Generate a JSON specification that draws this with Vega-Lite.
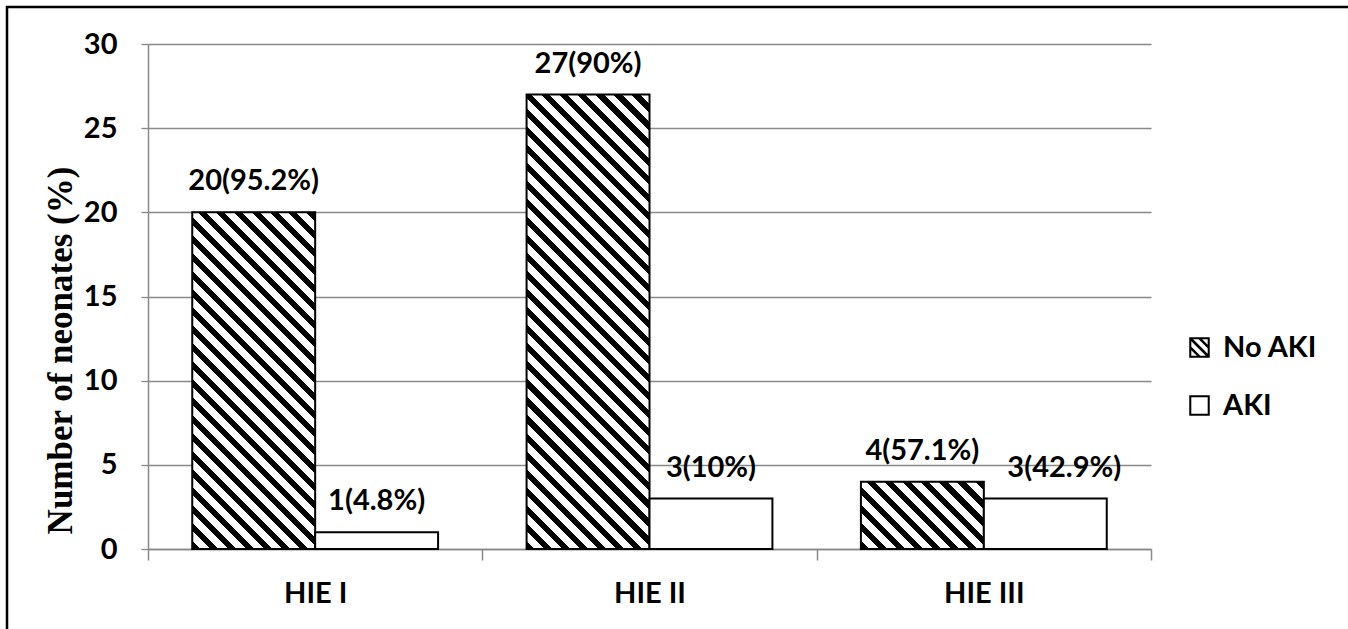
{
  "$schema": "https://vega.github.io/schema/vega-lite/v6.json",
  "width": 1345,
  "height": 626,
  "autosize": {"type": "none"},
  "padding": {"left": 7, "top": 7, "right": -4, "bottom": -4},
  "background": "white",
  "config": {
    "font": "Lato",
    "view": {"stroke": "black", "strokeWidth": 2.5}
  },
  "data": {
    "values": [
      {"group": "HIE I", "status": "No AKI", "count": 20, "pct": "95.2"},
      {"group": "HIE I", "status": "AKI", "count": 1, "pct": "4.8"},
      {"group": "HIE II", "status": "No AKI", "count": 27, "pct": "90"},
      {"group": "HIE II", "status": "AKI", "count": 3, "pct": "10"},
      {"group": "HIE III", "status": "No AKI", "count": 4, "pct": "57.1"},
      {"group": "HIE III", "status": "AKI", "count": 3, "pct": "42.9"}
    ]
  },
  "transform": [
    {"calculate": "datum.count + '(' + datum.pct + '%)'", "as": "label"}
  ],
  "encoding": {
    "x": {
      "field": "group",
      "type": "nominal",
      "scale": {"domain": ["HIE I", "HIE II", "HIE III"], "range": [141, 1144], "paddingInner": 0, "paddingOuter": 0},
      "axis": {
        "title": null,
        "offset": -84,
        "grid": false,
        "tickBand": "extent",
        "tickSize": 11,
        "tickColor": "#898989",
        "tickWidth": 1.5,
        "domainColor": "#898989",
        "domainWidth": 1.5,
        "labelAngle": 0,
        "labelFont": "Lato",
        "labelFontSize": 29,
        "labelFontWeight": "bold",
        "labelColor": "black",
        "labelBaseline": "alphabetic",
        "labelPadding": 42
      }
    },
    "xOffset": {
      "field": "status",
      "type": "nominal",
      "scale": {"domain": ["No AKI", "AKI"], "paddingInner": 0, "paddingOuter": 0.36}
    },
    "y": {
      "field": "count",
      "type": "quantitative",
      "scale": {"domain": [0, 30], "range": [542, 37], "nice": false, "zero": true},
      "axis": {
        "values": [0, 5, 10, 15, 20, 25, 30],
        "offset": -141,
        "grid": true,
        "gridColor": "#898989",
        "gridWidth": 1.3,
        "domainColor": "#898989",
        "domainWidth": 1.5,
        "tickColor": "#898989",
        "tickWidth": 1.3,
        "tickSize": 7,
        "labelPadding": 24,
        "labelFont": "Lato",
        "labelFontSize": 29,
        "labelFontWeight": "bold",
        "labelColor": "black",
        "labelBaseline": "middle",
        "title": "Number of neonates (%)",
        "titleFont": "Liberation Serif",
        "titleFontSize": 35,
        "titleFontWeight": "bold",
        "titleColor": "black",
        "titleAngle": -90,
        "titleAlign": "center",
        "titleBaseline": "alphabetic",
        "titleX": -77,
        "titleY": 343
      }
    }
  },
  "layer": [
    {
      "mark": {"type": "point", "filled": true, "color": "black", "opacity": 0},
      "encoding": {
        "shape": {
          "field": "status",
          "type": "nominal",
          "scale": {
            "domain": ["No AKI", "AKI"],
            "range": [
              "M-1,-1H1V1H-1Z M-0.8,-0.8V0.8H0.8V-0.8Z M-0.8,-0.8H-0.62L0.8,0.62V0.8H0.62L-0.8,-0.62Z M-0.08,-0.8H0.26L0.8,-0.26V0.08Z M-0.8,-0.08L0.08,0.8H-0.26L-0.8,0.26Z",
              "M-1,-1H1V1H-1Z M-0.8,-0.8V0.8H0.8V-0.8Z"
            ]
          },
          "legend": {
            "title": null,
            "orient": "none",
            "legendX": 1178,
            "legendY": 326,
            "labelFont": "Lato",
            "labelFontSize": 29,
            "labelFontWeight": "bold",
            "labelColor": "black",
            "labelOffset": 9,
            "rowPadding": 28,
            "symbolSize": 420,
            "symbolOpacity": 1,
            "symbolFillColor": "black",
            "symbolStrokeWidth": 0
          }
        }
      }
    },
    {
      "mark": {"type": "bar", "stroke": "black", "strokeWidth": 2},
      "encoding": {
        "fill": {
          "condition": [
            {
              "test": "datum.group === 'HIE I' && datum.status === 'No AKI'",
              "value": {
                "gradient": "linear", "x1": 0, "y1": 1, "x2": 0.4398, "y2": -0.2045,
                "stops": [
                  {"offset": 0, "color": "#000"}, {"offset": 0.0176, "color": "#000"}, {"offset": 0.0176, "color": "#fff"}, {"offset": 0.0392, "color": "#fff"},
                  {"offset": 0.0392, "color": "#000"}, {"offset": 0.0569, "color": "#000"}, {"offset": 0.0569, "color": "#fff"}, {"offset": 0.0784, "color": "#fff"},
                  {"offset": 0.0784, "color": "#000"}, {"offset": 0.0961, "color": "#000"}, {"offset": 0.0961, "color": "#fff"}, {"offset": 0.1176, "color": "#fff"},
                  {"offset": 0.1176, "color": "#000"}, {"offset": 0.1353, "color": "#000"}, {"offset": 0.1353, "color": "#fff"}, {"offset": 0.1569, "color": "#fff"},
                  {"offset": 0.1569, "color": "#000"}, {"offset": 0.1745, "color": "#000"}, {"offset": 0.1745, "color": "#fff"}, {"offset": 0.1961, "color": "#fff"},
                  {"offset": 0.1961, "color": "#000"}, {"offset": 0.2137, "color": "#000"}, {"offset": 0.2137, "color": "#fff"}, {"offset": 0.2353, "color": "#fff"},
                  {"offset": 0.2353, "color": "#000"}, {"offset": 0.2529, "color": "#000"}, {"offset": 0.2529, "color": "#fff"}, {"offset": 0.2745, "color": "#fff"},
                  {"offset": 0.2745, "color": "#000"}, {"offset": 0.2922, "color": "#000"}, {"offset": 0.2922, "color": "#fff"}, {"offset": 0.3137, "color": "#fff"},
                  {"offset": 0.3137, "color": "#000"}, {"offset": 0.3314, "color": "#000"}, {"offset": 0.3314, "color": "#fff"}, {"offset": 0.3529, "color": "#fff"},
                  {"offset": 0.3529, "color": "#000"}, {"offset": 0.3706, "color": "#000"}, {"offset": 0.3706, "color": "#fff"}, {"offset": 0.3922, "color": "#fff"},
                  {"offset": 0.3922, "color": "#000"}, {"offset": 0.4098, "color": "#000"}, {"offset": 0.4098, "color": "#fff"}, {"offset": 0.4314, "color": "#fff"},
                  {"offset": 0.4314, "color": "#000"}, {"offset": 0.4490, "color": "#000"}, {"offset": 0.4490, "color": "#fff"}, {"offset": 0.4706, "color": "#fff"},
                  {"offset": 0.4706, "color": "#000"}, {"offset": 0.4882, "color": "#000"}, {"offset": 0.4882, "color": "#fff"}, {"offset": 0.5098, "color": "#fff"},
                  {"offset": 0.5098, "color": "#000"}, {"offset": 0.5275, "color": "#000"}, {"offset": 0.5275, "color": "#fff"}, {"offset": 0.5490, "color": "#fff"},
                  {"offset": 0.5490, "color": "#000"}, {"offset": 0.5667, "color": "#000"}, {"offset": 0.5667, "color": "#fff"}, {"offset": 0.5882, "color": "#fff"},
                  {"offset": 0.5882, "color": "#000"}, {"offset": 0.6059, "color": "#000"}, {"offset": 0.6059, "color": "#fff"}, {"offset": 0.6275, "color": "#fff"},
                  {"offset": 0.6275, "color": "#000"}, {"offset": 0.6451, "color": "#000"}, {"offset": 0.6451, "color": "#fff"}, {"offset": 0.6667, "color": "#fff"},
                  {"offset": 0.6667, "color": "#000"}, {"offset": 0.6843, "color": "#000"}, {"offset": 0.6843, "color": "#fff"}, {"offset": 0.7059, "color": "#fff"},
                  {"offset": 0.7059, "color": "#000"}, {"offset": 0.7235, "color": "#000"}, {"offset": 0.7235, "color": "#fff"}, {"offset": 0.7451, "color": "#fff"},
                  {"offset": 0.7451, "color": "#000"}, {"offset": 0.7627, "color": "#000"}, {"offset": 0.7627, "color": "#fff"}, {"offset": 0.7843, "color": "#fff"},
                  {"offset": 0.7843, "color": "#000"}, {"offset": 0.8020, "color": "#000"}, {"offset": 0.8020, "color": "#fff"}, {"offset": 0.8235, "color": "#fff"},
                  {"offset": 0.8235, "color": "#000"}, {"offset": 0.8412, "color": "#000"}, {"offset": 0.8412, "color": "#fff"}, {"offset": 0.8627, "color": "#fff"},
                  {"offset": 0.8627, "color": "#000"}, {"offset": 0.8804, "color": "#000"}, {"offset": 0.8804, "color": "#fff"}, {"offset": 0.9020, "color": "#fff"},
                  {"offset": 0.9020, "color": "#000"}, {"offset": 0.9196, "color": "#000"}, {"offset": 0.9196, "color": "#fff"}, {"offset": 0.9412, "color": "#fff"},
                  {"offset": 0.9412, "color": "#000"}, {"offset": 0.9588, "color": "#000"}, {"offset": 0.9588, "color": "#fff"}, {"offset": 0.9804, "color": "#fff"},
                  {"offset": 0.9804, "color": "#000"}, {"offset": 0.9980, "color": "#000"}, {"offset": 0.9980, "color": "#fff"}, {"offset": 1, "color": "#fff"}
                ]
              }
            },
            {
              "test": "datum.group === 'HIE II' && datum.status === 'No AKI'",
              "value": {
                "gradient": "linear", "x1": 0, "y1": 1, "x2": 0.3202, "y2": -0.1839,
                "stops": [
                  {"offset": 0, "color": "#000"}, {"offset": 0.0141, "color": "#000"}, {"offset": 0.0141, "color": "#fff"}, {"offset": 0.03125, "color": "#fff"},
                  {"offset": 0.03125, "color": "#000"}, {"offset": 0.0454, "color": "#000"}, {"offset": 0.0454, "color": "#fff"}, {"offset": 0.0625, "color": "#fff"},
                  {"offset": 0.0625, "color": "#000"}, {"offset": 0.0766, "color": "#000"}, {"offset": 0.0766, "color": "#fff"}, {"offset": 0.09375, "color": "#fff"},
                  {"offset": 0.09375, "color": "#000"}, {"offset": 0.1079, "color": "#000"}, {"offset": 0.1079, "color": "#fff"}, {"offset": 0.125, "color": "#fff"},
                  {"offset": 0.125, "color": "#000"}, {"offset": 0.1391, "color": "#000"}, {"offset": 0.1391, "color": "#fff"}, {"offset": 0.15625, "color": "#fff"},
                  {"offset": 0.15625, "color": "#000"}, {"offset": 0.1704, "color": "#000"}, {"offset": 0.1704, "color": "#fff"}, {"offset": 0.1875, "color": "#fff"},
                  {"offset": 0.1875, "color": "#000"}, {"offset": 0.2016, "color": "#000"}, {"offset": 0.2016, "color": "#fff"}, {"offset": 0.21875, "color": "#fff"},
                  {"offset": 0.21875, "color": "#000"}, {"offset": 0.2329, "color": "#000"}, {"offset": 0.2329, "color": "#fff"}, {"offset": 0.25, "color": "#fff"},
                  {"offset": 0.25, "color": "#000"}, {"offset": 0.2641, "color": "#000"}, {"offset": 0.2641, "color": "#fff"}, {"offset": 0.28125, "color": "#fff"},
                  {"offset": 0.28125, "color": "#000"}, {"offset": 0.2954, "color": "#000"}, {"offset": 0.2954, "color": "#fff"}, {"offset": 0.3125, "color": "#fff"},
                  {"offset": 0.3125, "color": "#000"}, {"offset": 0.3266, "color": "#000"}, {"offset": 0.3266, "color": "#fff"}, {"offset": 0.34375, "color": "#fff"},
                  {"offset": 0.34375, "color": "#000"}, {"offset": 0.3579, "color": "#000"}, {"offset": 0.3579, "color": "#fff"}, {"offset": 0.375, "color": "#fff"},
                  {"offset": 0.375, "color": "#000"}, {"offset": 0.3891, "color": "#000"}, {"offset": 0.3891, "color": "#fff"}, {"offset": 0.40625, "color": "#fff"},
                  {"offset": 0.40625, "color": "#000"}, {"offset": 0.4204, "color": "#000"}, {"offset": 0.4204, "color": "#fff"}, {"offset": 0.4375, "color": "#fff"},
                  {"offset": 0.4375, "color": "#000"}, {"offset": 0.4516, "color": "#000"}, {"offset": 0.4516, "color": "#fff"}, {"offset": 0.46875, "color": "#fff"},
                  {"offset": 0.46875, "color": "#000"}, {"offset": 0.4829, "color": "#000"}, {"offset": 0.4829, "color": "#fff"}, {"offset": 0.5, "color": "#fff"},
                  {"offset": 0.5, "color": "#000"}, {"offset": 0.5141, "color": "#000"}, {"offset": 0.5141, "color": "#fff"}, {"offset": 0.53125, "color": "#fff"},
                  {"offset": 0.53125, "color": "#000"}, {"offset": 0.5454, "color": "#000"}, {"offset": 0.5454, "color": "#fff"}, {"offset": 0.5625, "color": "#fff"},
                  {"offset": 0.5625, "color": "#000"}, {"offset": 0.5766, "color": "#000"}, {"offset": 0.5766, "color": "#fff"}, {"offset": 0.59375, "color": "#fff"},
                  {"offset": 0.59375, "color": "#000"}, {"offset": 0.6079, "color": "#000"}, {"offset": 0.6079, "color": "#fff"}, {"offset": 0.625, "color": "#fff"},
                  {"offset": 0.625, "color": "#000"}, {"offset": 0.6391, "color": "#000"}, {"offset": 0.6391, "color": "#fff"}, {"offset": 0.65625, "color": "#fff"},
                  {"offset": 0.65625, "color": "#000"}, {"offset": 0.6704, "color": "#000"}, {"offset": 0.6704, "color": "#fff"}, {"offset": 0.6875, "color": "#fff"},
                  {"offset": 0.6875, "color": "#000"}, {"offset": 0.7016, "color": "#000"}, {"offset": 0.7016, "color": "#fff"}, {"offset": 0.71875, "color": "#fff"},
                  {"offset": 0.71875, "color": "#000"}, {"offset": 0.7329, "color": "#000"}, {"offset": 0.7329, "color": "#fff"}, {"offset": 0.75, "color": "#fff"},
                  {"offset": 0.75, "color": "#000"}, {"offset": 0.7641, "color": "#000"}, {"offset": 0.7641, "color": "#fff"}, {"offset": 0.78125, "color": "#fff"},
                  {"offset": 0.78125, "color": "#000"}, {"offset": 0.7954, "color": "#000"}, {"offset": 0.7954, "color": "#fff"}, {"offset": 0.8125, "color": "#fff"},
                  {"offset": 0.8125, "color": "#000"}, {"offset": 0.8266, "color": "#000"}, {"offset": 0.8266, "color": "#fff"}, {"offset": 0.84375, "color": "#fff"},
                  {"offset": 0.84375, "color": "#000"}, {"offset": 0.8579, "color": "#000"}, {"offset": 0.8579, "color": "#fff"}, {"offset": 0.875, "color": "#fff"},
                  {"offset": 0.875, "color": "#000"}, {"offset": 0.8891, "color": "#000"}, {"offset": 0.8891, "color": "#fff"}, {"offset": 0.90625, "color": "#fff"},
                  {"offset": 0.90625, "color": "#000"}, {"offset": 0.9204, "color": "#000"}, {"offset": 0.9204, "color": "#fff"}, {"offset": 0.9375, "color": "#fff"},
                  {"offset": 0.9375, "color": "#000"}, {"offset": 0.9516, "color": "#000"}, {"offset": 0.9516, "color": "#fff"}, {"offset": 0.96875, "color": "#fff"},
                  {"offset": 0.96875, "color": "#000"}, {"offset": 0.9829, "color": "#000"}, {"offset": 0.9829, "color": "#fff"}, {"offset": 1, "color": "#fff"}
                ]
              }
            },
            {
              "test": "datum.group === 'HIE III' && datum.status === 'No AKI'",
              "value": {
                "gradient": "linear", "x1": 0, "y1": 1, "x2": 1.1905, "y2": 0.3479,
                "stops": [
                  {"offset": 0, "color": "#000"}, {"offset": 0.0429, "color": "#000"}, {"offset": 0.0429, "color": "#fff"}, {"offset": 0.0952, "color": "#fff"},
                  {"offset": 0.0952, "color": "#000"}, {"offset": 0.1381, "color": "#000"}, {"offset": 0.1381, "color": "#fff"}, {"offset": 0.1905, "color": "#fff"},
                  {"offset": 0.1905, "color": "#000"}, {"offset": 0.2333, "color": "#000"}, {"offset": 0.2333, "color": "#fff"}, {"offset": 0.2857, "color": "#fff"},
                  {"offset": 0.2857, "color": "#000"}, {"offset": 0.3286, "color": "#000"}, {"offset": 0.3286, "color": "#fff"}, {"offset": 0.3810, "color": "#fff"},
                  {"offset": 0.3810, "color": "#000"}, {"offset": 0.4238, "color": "#000"}, {"offset": 0.4238, "color": "#fff"}, {"offset": 0.4762, "color": "#fff"},
                  {"offset": 0.4762, "color": "#000"}, {"offset": 0.5190, "color": "#000"}, {"offset": 0.5190, "color": "#fff"}, {"offset": 0.5714, "color": "#fff"},
                  {"offset": 0.5714, "color": "#000"}, {"offset": 0.6143, "color": "#000"}, {"offset": 0.6143, "color": "#fff"}, {"offset": 0.6667, "color": "#fff"},
                  {"offset": 0.6667, "color": "#000"}, {"offset": 0.7095, "color": "#000"}, {"offset": 0.7095, "color": "#fff"}, {"offset": 0.7619, "color": "#fff"},
                  {"offset": 0.7619, "color": "#000"}, {"offset": 0.8048, "color": "#000"}, {"offset": 0.8048, "color": "#fff"}, {"offset": 0.8571, "color": "#fff"},
                  {"offset": 0.8571, "color": "#000"}, {"offset": 0.9000, "color": "#000"}, {"offset": 0.9000, "color": "#fff"}, {"offset": 0.9524, "color": "#fff"},
                  {"offset": 0.9524, "color": "#000"}, {"offset": 0.9952, "color": "#000"}, {"offset": 0.9952, "color": "#fff"}, {"offset": 1, "color": "#fff"}
                ]
              }
            }
          ],
          "value": "white"
        }
      }
    },
    {
      "transform": [{"filter": "!(datum.group === 'HIE III' && datum.status === 'AKI')"}],
      "mark": {"type": "text", "dy": -22, "baseline": "alphabetic", "font": "Lato", "fontSize": 29, "fontWeight": "bold", "color": "black"},
      "encoding": {"text": {"field": "label", "type": "nominal"}}
    },
    {
      "transform": [{"filter": "datum.group === 'HIE III' && datum.status === 'AKI'"}],
      "mark": {"type": "text", "dy": -22, "dx": 19, "baseline": "alphabetic", "font": "Lato", "fontSize": 29, "fontWeight": "bold", "color": "black"},
      "encoding": {"text": {"field": "label", "type": "nominal"}}
    }
  ]
}
